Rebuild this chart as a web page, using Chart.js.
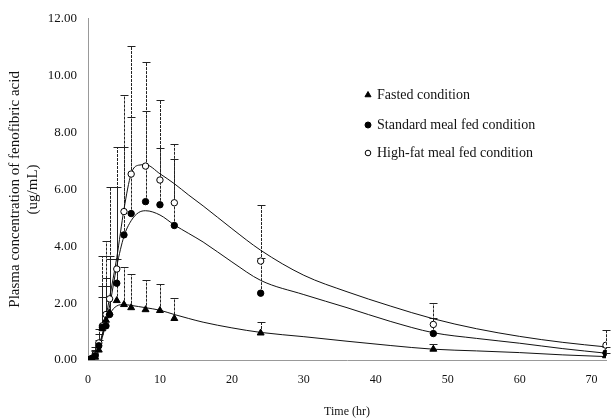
<!DOCTYPE html>
<html>
<head>
<meta charset="utf-8">
<script src="https://cdn.jsdelivr.net/npm/chart.js@4.4.1/dist/chart.umd.min.js"></script>
<style>
    html, body { margin: 0; padding: 0; background: #ffffff; }
    #wrap { position: relative; width: 611px; height: 418px; }
</style>
</head>
<body>
<div id="wrap"><canvas id="pkChart"></canvas></div>
<script>
// Observed sampling times (hr) and mean / mean+SD values (ug/mL)
const obsTime = [0, 0.5, 1, 1.5, 2, 2.5, 3, 4, 5, 6, 8, 10, 12, 24, 48, 72];
const fastedMean = [0, 0.02, 0.1, 0.35, 1.1, 1.4, 1.65, 2.09, 1.95, 1.84, 1.77, 1.74, 1.46, 0.95, 0.38, 0.15];
const fastedUpper = [0, 0.1, 0.3, 0.7, 2.2, 2.6, 3.65, 3.55, 3.27, 3.03, 2.82, 2.68, 2.19, 1.32, 0.56, 0.25];
const standardMean = [0, 0.05, 0.15, 0.5, 1.15, 1.2, 1.6, 2.7, 4.4, 5.15, 5.57, 5.46, 4.73, 2.35, 0.93, 0.25];
const standardUpper = [0, 0.1, 0.35, 0.9, 2.6, 2.9, 3.55, 6.1, 7.5, 8.56, 8.77, 7.44, 7.06, 3.6, 1.46, 0.45];
const highFatMean = [0, 0.05, 0.2, 0.6, 1.2, 1.6, 2.15, 3.2, 5.22, 6.54, 6.82, 6.33, 5.53, 3.48, 1.25, 0.52];
const highFatUpper = [0, 0.12, 0.45, 1.1, 3.65, 4.2, 6.1, 7.5, 9.32, 11.03, 10.47, 9.15, 7.58, 5.46, 2.02, 1.04];

// Fitted model curves
const fitTime = [0, 1, 2, 3, 4, 5, 6, 7, 8, 10, 12, 14, 16, 20, 24, 30, 36, 42, 48, 54, 60, 66, 72];
const fastedFit = [0, 0.1, 0.9, 1.6, 1.9, 1.95, 1.92, 1.88, 1.84, 1.75, 1.6, 1.46, 1.33, 1.13, 0.97, 0.82, 0.66, 0.51, 0.38, 0.32, 0.26, 0.18, 0.12];
const standardFit = [0, 0.1, 0.8, 1.9, 3.3, 4.35, 4.9, 5.18, 5.25, 5.1, 4.75, 4.45, 4.15, 3.45, 2.8, 2.3, 1.84, 1.36, 0.96, 0.76, 0.59, 0.4, 0.24];
const highFatFit = [0, 0.1, 0.9, 2.2, 3.6, 5.3, 6.55, 6.85, 6.87, 6.55, 6.2, 5.8, 5.42, 4.62, 3.86, 2.98, 2.4, 1.9, 1.45, 1.1, 0.83, 0.62, 0.46];

// Axis ticks and legend labels
const xTicks = [0, 10, 20, 30, 40, 50, 60, 70];
const yTicks = [0, 2, 4, 6, 8, 10, 12];
const seriesLabels = ['Fasted condition', 'Standard meal fed condition', 'High-fat meal fed condition'];

const SERIF = '"Liberation Serif", "DejaVu Serif", serif';

function toPoints(xs, ys) {
    return xs.map(function (x, i) { return { x: x, y: ys[i] }; });
}

function fitDataset(values) {
    return {
        type: 'line',
        data: toPoints(fitTime, values),
        borderColor: '#111111',
        borderWidth: 1,
        pointRadius: 0,
        cubicInterpolationMode: 'monotone',
        fill: false,
        order: 2
    };
}

function obsDataset(values, upper, style, fillColor, radius) {
    return {
        type: 'scatter',
        data: toPoints(obsTime, values),
        upper: upper,
        pointStyle: style,
        pointRadius: radius,
        pointBackgroundColor: fillColor,
        pointBorderColor: '#000000',
        pointBorderWidth: 1,
        order: 1
    };
}

// Upper error bars (mean + SD) with caps
const errorBarPlugin = {
    id: 'errorBars',
    beforeDatasetsDraw: function (chart) {
        const ctx = chart.ctx;
        const xs = chart.scales.x;
        const ys = chart.scales.y;
        ctx.save();
        ctx.strokeStyle = '#222222';
        ctx.lineWidth = 1;
        chart.data.datasets.forEach(function (ds) {
            if (!ds.upper) return;
            ds.data.forEach(function (p, i) {
                const up = ds.upper[i];
                if (up <= p.y + 0.05) return;
                const px = Math.round(xs.getPixelForValue(p.x)) + 0.5;
                const y0 = ys.getPixelForValue(p.y);
                const y1 = Math.round(ys.getPixelForValue(up)) + 0.5;
                ctx.setLineDash([3, 1]);
                ctx.beginPath();
                ctx.moveTo(px, y0);
                ctx.lineTo(px, y1);
                ctx.stroke();
                ctx.setLineDash([]);
                ctx.beginPath();
                ctx.moveTo(px - 4, y1);
                ctx.lineTo(px + 4, y1);
                ctx.stroke();
            });
        });
        ctx.restore();
    }
};

// Legend drawn inside the plot area
const innerLegendPlugin = {
    id: 'innerLegend',
    afterDraw: function (chart) {
        const ctx = chart.ctx;
        const styles = [
            { style: 'triangle', fill: '#000000', r: 3.5 },
            { style: 'circle', fill: '#000000', r: 3 },
            { style: 'circle', fill: '#ffffff', r: 2.8 }
        ];
        const rowsY = [95, 125, 153];
        ctx.save();
        ctx.font = '14px ' + SERIF;
        ctx.textBaseline = 'middle';
        seriesLabels.forEach(function (label, i) {
            ctx.strokeStyle = '#000000';
            ctx.lineWidth = 1;
            ctx.fillStyle = styles[i].fill;
            Chart.helpers.drawPoint(ctx, { pointStyle: styles[i].style, radius: styles[i].r, borderWidth: 1 }, 368, rowsY[i]);
            ctx.fillStyle = '#111111';
            ctx.fillText(label, 377, rowsY[i]);
        });
        ctx.restore();
    }
};

const canvas = document.getElementById('pkChart');
canvas.width = 611;
canvas.height = 418;

new Chart(canvas.getContext('2d'), {
    data: {
        datasets: [
            fitDataset(fastedFit),
            fitDataset(standardFit),
            fitDataset(highFatFit),
            obsDataset(fastedMean, fastedUpper, 'triangle', '#000000', 4),
            obsDataset(standardMean, standardUpper, 'circle', '#000000', 3.2),
            obsDataset(highFatMean, highFatUpper, 'circle', '#ffffff', 3.2)
        ]
    },
    plugins: [errorBarPlugin, innerLegendPlugin],
    options: {
        responsive: false,
        animation: false,
        layout: { padding: { top: 15, right: 5, bottom: 0, left: 0 } },
        plugins: {
            legend: { display: false },
            tooltip: { enabled: false }
        },
        scales: {
            x: {
                type: 'linear',
                min: 0,
                max: 72,
                afterBuildTicks: function (scale) {
                    scale.ticks = xTicks.map(function (v) { return { value: v }; });
                },
                afterFit: function (scale) { scale.height = 58; },
                grid: { display: false, drawTicks: false },
                border: { display: true, color: '#999999', dash: [2, 2], width: 1 },
                ticks: {
                    padding: 13,
                    color: '#111111',
                    font: { family: SERIF, size: 12 }
                },
                title: {
                    display: true,
                    text: 'Time (hr)',
                    color: '#111111',
                    padding: { top: 0, bottom: 0 },
                    font: { family: SERIF, size: 12, lineHeight: 1.0 }
                }
            },
            y: {
                type: 'linear',
                min: 0,
                max: 12,
                afterBuildTicks: function (scale) {
                    scale.ticks = yTicks.map(function (v) { return { value: v }; });
                },
                afterFit: function (scale) { scale.width = 88; },
                grid: { display: false, drawTicks: false },
                border: { display: true, color: '#999999', dash: [2, 2], width: 1 },
                ticks: {
                    padding: 11,
                    color: '#111111',
                    font: { family: SERIF, size: 13 },
                    callback: function (v) { return v.toFixed(2); }
                },
                title: {
                    display: true,
                    text: ['Plasma concentration of fenofibric acid', '(ug/mL)'],
                    color: '#111111',
                    padding: { top: 6, bottom: 0 },
                    font: { family: SERIF, size: 15, lineHeight: 1.2 }
                }
            }
        }
    }
});
</script>
</body>
</html>
